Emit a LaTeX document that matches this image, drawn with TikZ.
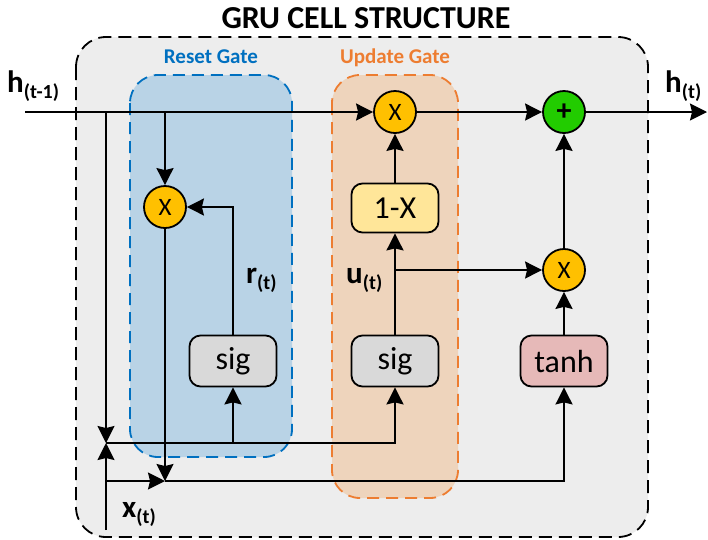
\documentclass[tikz,border=0pt]{standalone}
\usepackage{fontspec}
\setmainfont{Carlito}
\usetikzlibrary{arrows.meta,calc}
\definecolor{outerfill}{HTML}{EDEDED}
\definecolor{resetfill}{HTML}{B9D3E6}
\definecolor{resetline}{HTML}{0070C0}
\definecolor{updfill}{HTML}{EED4BC}
\definecolor{updline}{HTML}{ED7D31}
\definecolor{multfill}{HTML}{FFC000}
\definecolor{addfill}{HTML}{22CC00}
\definecolor{sigfill}{HTML}{D9D9D9}
\definecolor{omxfill}{HTML}{FFE699}
\definecolor{tanhfill}{HTML}{E6B9B8}
\tikzset{
  arr/.style={line width=1.8pt,-{Stealth[length=17pt,width=17pt,inset=2pt]}},
  opnode/.style={circle,draw,line width=1.8pt,minimum size=42pt,inner sep=0pt,font=\fontsize{25}{25}\selectfont},
  fbox/.style={rounded corners=11pt,draw,line width=1.8pt,minimum width=87pt,minimum height=51pt,inner sep=0pt,font=\fontsize{32}{32}\selectfont},
  gatebox/.style={rounded corners=28pt,line width=1.8pt,dash pattern=on 12pt off 7pt},
  lbl/.style={inner sep=0pt,anchor=base west,font=\fontsize{31}{31}\selectfont\bfseries},
}
\newcommand{\subl}[2]{#1\raisebox{-6pt}{\fontsize{20}{20}\selectfont\bfseries #2}}
\begin{document}
\begin{tikzpicture}[x=1pt,y=-1pt]
\useasboundingbox (0,0) rectangle (708,539);
% outer box
\draw[fill=outerfill,line width=1.8pt,dash pattern=on 13pt off 7pt,rounded corners=30pt] (76,37) rectangle (648,537);
\node[font=\fontsize{32}{32}\selectfont\bfseries,anchor=base] (title) at (366,28) {GRU CELL STRUCTURE};
% gate boxes
\draw[gatebox,fill=resetfill,draw=resetline] (130,75) rectangle (292,457);
\draw[gatebox,fill=updfill,draw=updline] (332,75) rectangle (458,498);
\node[anchor=base,text=resetline,font=\fontsize{21}{21}\selectfont\bfseries] (rgl) at (211,63) {Reset Gate};
\node[anchor=base,text=updline,font=\fontsize{21}{21}\selectfont\bfseries] (ugl) at (395,63) {Update Gate};
% operation nodes
\node[opnode,fill=multfill] (rx) at (165,207) {X};
\node[opnode,fill=multfill] (ux) at (395,112) {X};
\node[opnode,fill=addfill,font=\fontsize{30}{30}\selectfont\bfseries] (add) at (564,112) {+};
\node[opnode,fill=multfill] (tx) at (564,270) {X};
\node[fbox,fill=sigfill] (rsig) at (233,361) {sig};
\node[fbox,fill=sigfill] (usig) at (395,361) {sig};
\node[fbox,fill=tanhfill] (tanh) at (564,361) {tanh};
\node[fbox,fill=omxfill,minimum height=49pt] (omx) at (395,208) {1-X};
% labels
\node[lbl] (hprev) at (7,92) {\subl{h}{(t-1)}};
\node[lbl] (hnext) at (665,92) {\subl{h}{(t)}};
\node[lbl] (rt) at (246,283) {\subl{r}{(t)}};
\node[lbl] (ut) at (346,283) {\subl{u}{(t)}};
\node[lbl] (xt) at (122,517) {\subl{x}{(t)}};
% coordinates
\coordinate (hin) at (25,112);
\coordinate (hout) at (707,112);
\coordinate (j1) at (106,112);
\coordinate (jh) at (165,112);
\coordinate (m) at (106,443);
\coordinate (xin) at (106,530);
\coordinate (xl) at (106,481);
\coordinate (xj) at (165,481);
% connectors
\draw[arr] (hin) -- (ux);
\draw[arr] (j1) -- (m);
\draw[arr] (xin) -- (m);
\draw[arr] (m) -| (usig.south);
\draw[arr] (rsig.south |- m) -- (rsig.south);
\draw[arr] (jh) -- (rx);
\draw[arr] (rx) -- (xj);
\draw[arr] (xl) -- (xj);
\draw[arr] (xj) -| (tanh.south);
\draw[arr] (rsig.north) |- (rx.east);
\draw[arr] (usig) -- (omx);
\draw[arr] (omx) -- (ux);
\draw[arr] (ux) -- (add);
\draw[arr] (add) -- (hout);
\draw[arr] (tanh) -- (tx);
\draw[arr] (tx) -- (add);
\draw[arr] (usig.north |- tx.west) -- (tx.west);
\end{tikzpicture}
\end{document}
